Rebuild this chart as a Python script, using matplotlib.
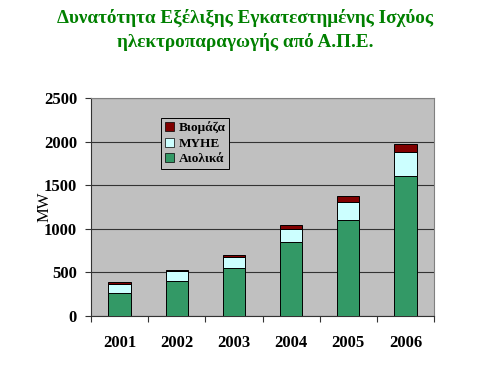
import matplotlib.pyplot as plt
import numpy as np
from matplotlib.patches import Patch

plt.rcParams['font.family'] = ['Liberation Serif', 'DejaVu Serif']

years = ['2001', '2002', '2003', '2004', '2005', '2006']
aiolika = [260, 400, 550, 850, 1100, 1600]
myhe = [110, 115, 130, 150, 210, 280]
viomaza = [15, 15, 20, 45, 70, 95]

C_WIND = '#339966'
C_MYHE = '#CCFFFF'
C_BIO = '#800000'

fig = plt.figure(figsize=(4.9, 3.68), dpi=100)
ax = fig.add_axes([91 / 490, 1 - 316 / 368, (434 - 91) / 490, (316 - 98) / 368])
ax.set_facecolor('#C0C0C0')

x = np.arange(len(years))
w = 0.39
bottom2 = np.array(aiolika)
bottom3 = bottom2 + np.array(myhe)
ax.bar(x, aiolika, w, color=C_WIND, edgecolor='black', linewidth=0.7, zorder=3)
ax.bar(x, myhe, w, bottom=bottom2, color=C_MYHE, edgecolor='black', linewidth=0.7, zorder=3)
ax.bar(x, viomaza, w, bottom=bottom3, color=C_BIO, edgecolor='black', linewidth=0.7, zorder=3)

ax.set_xlim(-0.5, len(years) - 0.5)
ax.set_ylim(0, 2500)
ax.set_yticks(range(0, 2501, 500))
ax.yaxis.grid(True, color='#333333', linewidth=0.8, zorder=0)
ax.set_axisbelow(True)

ax.set_xticks(x)
ax.set_xticklabels(years, fontweight='bold', fontsize=12)
ax.set_xticks(np.arange(-0.5, len(years)), minor=True)
ax.tick_params(axis='x', which='major', length=0, pad=14)
ax.tick_params(axis='x', which='minor', length=4, width=0.8, color='#333333')
ax.tick_params(axis='y', length=4, width=0.8, color='#333333', labelsize=12, pad=6)
for lab in ax.get_yticklabels():
    lab.set_fontweight('bold')

for s in ['top', 'right']:
    ax.spines[s].set_color('#808080')
ax.spines['left'].set_color('#333333')
ax.spines['bottom'].set_color('#333333')

ax.set_ylabel('MW', fontsize=12, labelpad=-6.5)

handles = [Patch(facecolor=C_BIO, edgecolor='black', linewidth=0.5, label='Βιομάζα'),
           Patch(facecolor=C_MYHE, edgecolor='black', linewidth=0.5, label='ΜΥΗΕ'),
           Patch(facecolor=C_WIND, edgecolor='black', linewidth=0.5, label='Αιολικά')]
leg = ax.legend(handles=handles, loc='upper left', bbox_to_anchor=(0.205, 0.91),
                prop={'weight': 'bold', 'size': 9.5}, frameon=True, fancybox=False,
                handlelength=0.65, handleheight=0.65, handletextpad=0.35,
                labelspacing=0.25, borderpad=0.3, borderaxespad=0)
leg.get_frame().set_facecolor('#C0C0C0')
leg.get_frame().set_edgecolor('black')
leg.get_frame().set_linewidth(0.7)
leg.get_frame().set_alpha(1)

fig.text(0.5, 1 - 18 / 368, 'Δυνατότητα Εξέλιξης Εγκατεστημένης Ισχύος',
         ha='center', va='center', color='#008000', fontsize=13.8, fontweight='bold')
fig.text(0.5, 1 - 42 / 368, 'ηλεκτροπαραγωγής από Α.Π.Ε.',
         ha='center', va='center', color='#008000', fontsize=13.8, fontweight='bold')

fig.savefig('out.png', dpi=100)
